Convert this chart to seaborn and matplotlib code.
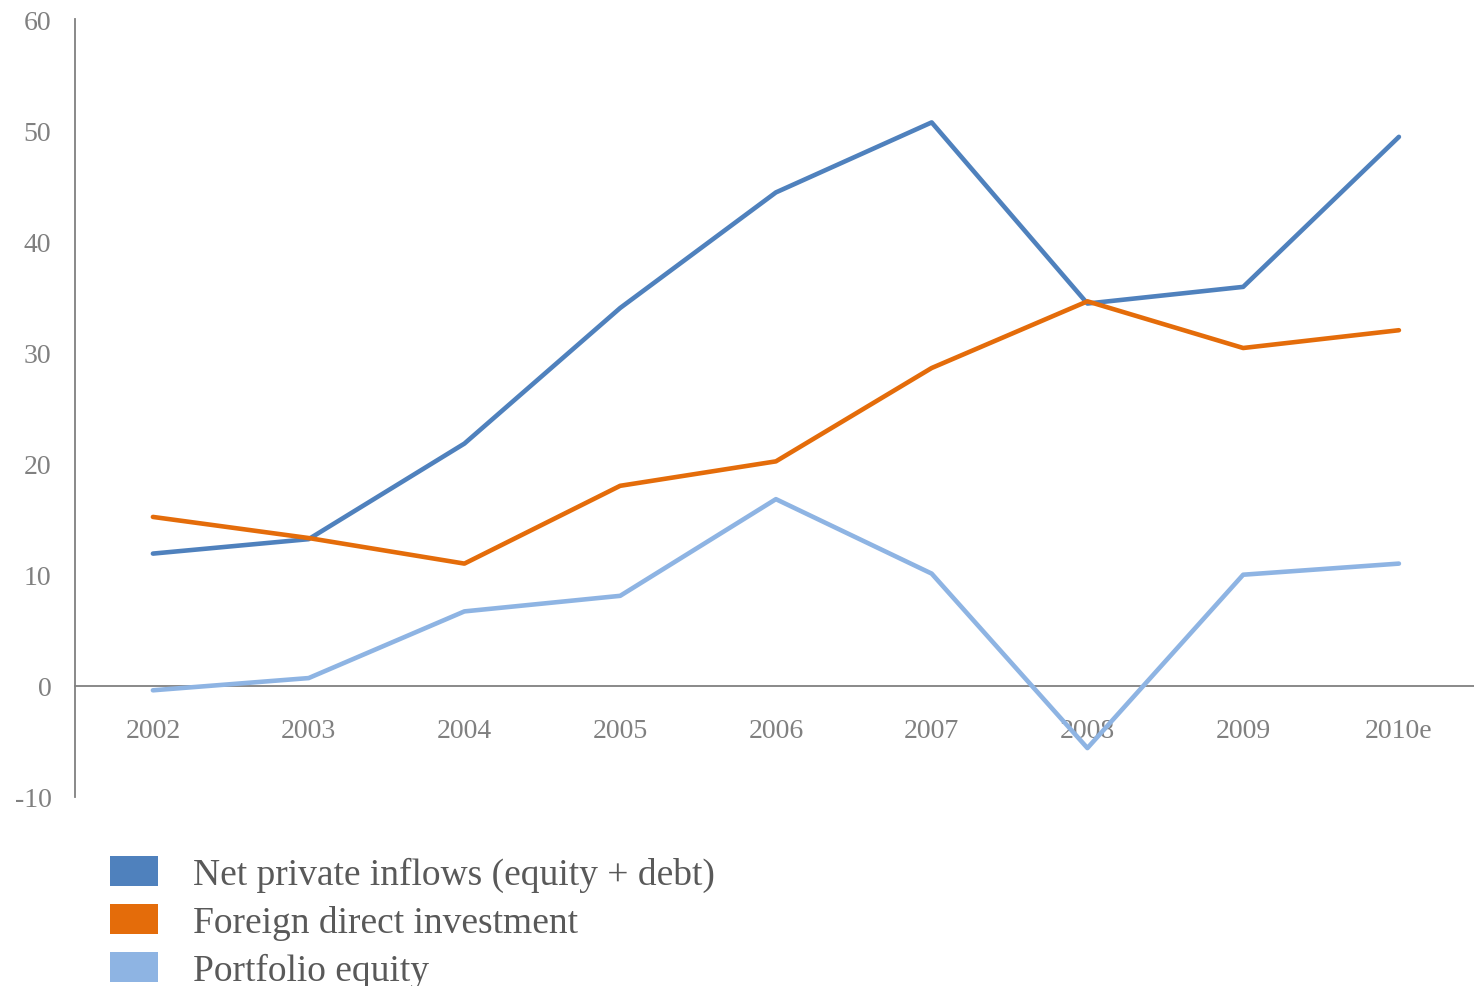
import matplotlib.pyplot as plt
import pandas as pd
import seaborn as sns
from matplotlib.patches import Patch

years = ["2002", "2003", "2004", "2005", "2006", "2007", "2008", "2009", "2010e"]
net_private = [11.9, 13.2, 21.8, 34.0, 44.4, 50.7, 34.4, 35.9, 49.4]
fdi = [15.2, 13.3, 11.0, 18.0, 20.2, 28.6, 34.6, 30.4, 32.0]
portfolio = [-0.4, 0.7, 6.7, 8.1, 16.8, 10.1, -5.6, 10.0, 11.0]

series_names = [
    "Net private inflows (equity + debt)",
    "Foreign direct investment",
    "Portfolio equity",
]
colors = ["#4F81BD", "#E46C0A", "#8EB4E3"]

df = pd.DataFrame({
    "year": years * 3,
    "pos": list(range(len(years))) * 3,
    "value": net_private + fdi + portfolio,
    "series": [s for s in series_names for _ in years],
})

sns.set_style("white")
plt.rcParams["font.family"] = ["Liberation Serif", "DejaVu Serif"]
plt.rcParams["axes.unicode_minus"] = False

fig = plt.figure(figsize=(14.74, 9.87), dpi=100)
ax = fig.add_axes([0.0509, 0.1915, 0.951, 0.7882])

sns.lineplot(
    data=df, x="pos", y="value", hue="series", palette=colors,
    linewidth=3.3, legend=False, ax=ax, sort=False,
)

ax.set_xlim(-0.5, 8.5)
ax.set_ylim(-10, 60)
ax.set_xticks(range(len(years)))
ax.set_xticklabels(years)
ax.set_yticks(range(-10, 61, 10))
ax.set_xlabel("")
ax.set_ylabel("")

grey = "#808080"
ax.spines["top"].set_visible(False)
ax.spines["right"].set_visible(False)
ax.spines["left"].set_color(grey)
ax.spines["left"].set_linewidth(1.3)
ax.spines["bottom"].set_position(("data", 0))
ax.spines["bottom"].set_color(grey)
ax.spines["bottom"].set_linewidth(1.3)
ax.spines["bottom"].set_zorder(1)

ax.tick_params(axis="x", length=0, pad=23, labelsize=20, labelcolor=grey)
ax.tick_params(axis="y", length=0, pad=17, labelsize=20, labelcolor=grey)

handles = [Patch(facecolor=c, edgecolor="none") for c in colors]
fig.legend(
    handles, series_names, loc="upper left", bbox_to_anchor=(0.0746, 0.132),
    frameon=False, fontsize=27, labelcolor="#595959",
    handlelength=1.28, handleheight=0.88, handletextpad=0.93,
    labelspacing=0.31, borderaxespad=0, borderpad=0,
)

fig.savefig("out.png", dpi=100)
